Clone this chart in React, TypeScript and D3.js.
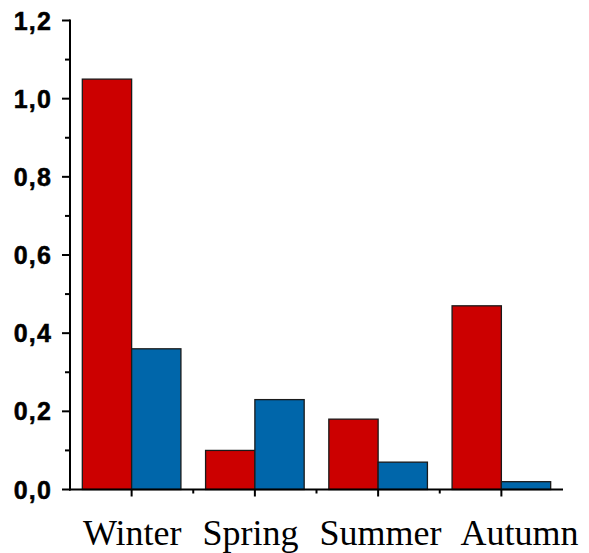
import React from "react";
import * as d3 from "d3";

const categories = ["Winter", "Spring", "Summer", "Autumn"];
const seriesRed = [1.05, 0.1, 0.18, 0.47];
const seriesBlue = [0.36, 0.23, 0.07, 0.02];
const yTicks = [0, 0.2, 0.4, 0.6, 0.8, 1.0, 1.2];
const yMinorTicks = [0.1, 0.3, 0.5, 0.7, 0.9, 1.1];

const W = 589;
const H = 553;
const left = 70;
const right = 563;
const top = 20.5;
const bottom = 489.5;

export default function App() {
  const x = d3.scaleLinear().domain([0.5, categories.length + 0.5]).range([left, right]);
  const y = d3.scaleLinear().domain([0, 1.2]).range([bottom, top]);
  const step = x(2) - x(1);
  const barW = (step * 0.8) / 2;
  const xMinor = d3.range(1.5, categories.length, 1);
  const fmt = (v: number) => v.toFixed(1).replace(".", ",");

  const series = [
    { values: seriesRed, color: "#cc0000", offset: -1 },
    { values: seriesBlue, color: "#0066aa", offset: 0 },
  ];

  return (
    <svg
      width={W}
      height={H}
      style={{ position: "absolute", left: 0, top: 0, background: "#fff" }}
    >
      {series.map((s, si) =>
        s.values.map((v, i) => {
          const cx = x(i + 1);
          return (
            <rect
              key={`${si}-${i}`}
              x={cx + s.offset * barW}
              y={y(v)}
              width={barW}
              height={y(0) - y(v)}
              fill={s.color}
              stroke="#1a1a1a"
              strokeWidth={1.3}
            />
          );
        })
      )}

      {/* y axis */}
      <line x1={left} x2={left} y1={top - 1} y2={bottom + 1} stroke="#000" strokeWidth={2} />
      {yTicks.map((t) => (
        <g key={`yt${t}`}>
          <line x1={left - 8} x2={left} y1={y(t)} y2={y(t)} stroke="#000" strokeWidth={2} />
          <text
            x={52}
            y={y(t)}
            dy="0.36em"
            textAnchor="end"
            fontFamily="'Liberation Sans', Arial, sans-serif"
            fontWeight="bold"
            fontSize={25}
            letterSpacing={1.2}
            fill="#000"
            stroke="#000"
            strokeWidth={0.5}
          >
            {fmt(t)}
          </text>
        </g>
      ))}
      {yMinorTicks.map((t) => (
        <line key={`ym${t}`} x1={left - 5} x2={left} y1={y(t)} y2={y(t)} stroke="#000" strokeWidth={2} />
      ))}

      {/* x axis */}
      <line x1={left - 1} x2={right} y1={bottom} y2={bottom} stroke="#000" strokeWidth={2} />
      {categories.map((c, i) => (
        <line key={c} x1={x(i + 1)} x2={x(i + 1)} y1={bottom} y2={bottom + 7} stroke="#000" strokeWidth={2} />
      ))}
      {xMinor.map((t) => (
        <line key={`xm${t}`} x1={x(t)} x2={x(t)} y1={bottom} y2={bottom + 4} stroke="#000" strokeWidth={2} />
      ))}

      {/* category names, set as one line of text */}
      <text
        x={83}
        y={545}
        fontFamily="'Liberation Serif', 'Times New Roman', serif"
        fontSize={36}
        wordSpacing={1.5}
        fill="#000"
        style={{ whiteSpace: "pre" }}
      >
        {categories.join("  ")}
      </text>
    </svg>
  );
}
